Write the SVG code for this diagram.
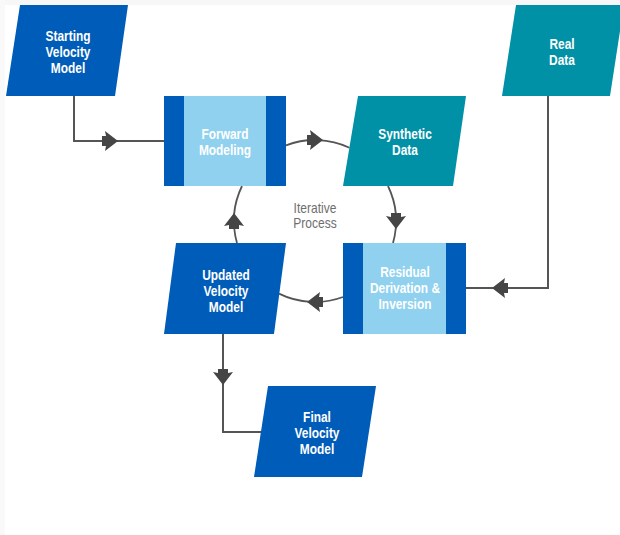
<svg xmlns="http://www.w3.org/2000/svg" xmlns:xlink="http://www.w3.org/1999/xlink" width="620" height="535" viewBox="0 0 620 535">
<style>
.dark{fill:#005cb9}
.light{fill:#8fd1ee}
.teal{fill:#0091a7}
.lbl{font-family:"Liberation Sans",Arial,sans-serif;font-weight:bold;font-size:14px;fill:#ffffff;text-anchor:middle}
.note{font-family:"Liberation Sans",Arial,sans-serif;font-size:14px;fill:#6e6e6e;text-anchor:middle}
.ln{fill:none;stroke:#555555;stroke-width:2}
.arc{fill:none;stroke:#555555;stroke-width:1.8}
.ah{fill:#454545}
</style>
<defs>
<path id="arr" d="M-8,-5 L-4,-5 L-5,-10 L8,0 L-5,10 L-4,5 L-8,5 Z"/>
</defs>
<rect x="0" y="0" width="620" height="535" fill="#ffffff"/>
<rect x="0" y="0" width="620" height="5" fill="#f7f7f7"/>
<rect x="0" y="0" width="5" height="535" fill="#f9f9f9"/>

<g id="connectors">
<path class="ln" d="M74,96 V141 H164"/>
<path class="ln" d="M548,96 V288 H466"/>
<path class="ln" d="M223,334 V432 H261"/>
<path class="arc" d="M286,145.4 A81,81 0 0 1 349.5,147.7"/>
<path class="arc" d="M388,186 A81,81 0 0 1 393,243"/>
<path class="arc" d="M343,297 A81,81 0 0 1 279,293.6"/>
<path class="arc" d="M237,243 A81,81 0 0 1 242,186"/>
<g class="ah">
<use xlink:href="#arr" transform="translate(110,141)"/>
<use xlink:href="#arr" transform="translate(500,288) rotate(180)"/>
<use xlink:href="#arr" transform="translate(223,377) rotate(90)"/>
<use xlink:href="#arr" transform="translate(315,140)"/>
<use xlink:href="#arr" transform="translate(396,221) rotate(90)"/>
<use xlink:href="#arr" transform="translate(315,302) rotate(180)"/>
<use xlink:href="#arr" transform="translate(234,221) rotate(-90)"/>
</g>
</g>

<g id="starting">
<polygon class="dark" points="20,5 128,5 115,96 6,96"/>
<text class="lbl" transform="translate(68,41) scale(0.85,1)">Starting</text>
<text class="lbl" transform="translate(68,57) scale(0.85,1)">Velocity</text>
<text class="lbl" transform="translate(68,73) scale(0.85,1)">Model</text>
</g>

<g id="forward">
<rect class="dark" x="164" y="96" width="122" height="90"/>
<rect class="light" x="184" y="96" width="82" height="90"/>
<text class="lbl" transform="translate(225,139) scale(0.85,1)">Forward</text>
<text class="lbl" transform="translate(225,155) scale(0.85,1)">Modeling</text>
</g>

<g id="synthetic">
<polygon class="teal" points="358,96 466,96 453,186 343,186"/>
<text class="lbl" transform="translate(405,139) scale(0.85,1)">Synthetic</text>
<text class="lbl" transform="translate(405,155) scale(0.85,1)">Data</text>
</g>

<g id="real">
<polygon class="teal" points="516,5 624,5 610,96 502,96"/>
<text class="lbl" transform="translate(562,49) scale(0.85,1)">Real</text>
<text class="lbl" transform="translate(562,65) scale(0.85,1)">Data</text>
</g>

<g id="residual">
<rect class="dark" x="343" y="243" width="123" height="91"/>
<rect class="light" x="363" y="243" width="83" height="91"/>
<text class="lbl" transform="translate(405,277) scale(0.85,1)">Residual</text>
<text class="lbl" transform="translate(405,293) scale(0.85,1)">Derivation &amp;</text>
<text class="lbl" transform="translate(405,309) scale(0.85,1)">Inversion</text>
</g>

<g id="updated">
<polygon class="dark" points="176,243 286,243 274,334 164,334"/>
<text class="lbl" transform="translate(226,280) scale(0.85,1)">Updated</text>
<text class="lbl" transform="translate(226,296) scale(0.85,1)">Velocity</text>
<text class="lbl" transform="translate(226,312) scale(0.85,1)">Model</text>
</g>

<g id="final">
<polygon class="dark" points="268,386 376,386 362,477 254,477"/>
<text class="lbl" transform="translate(317,422) scale(0.85,1)">Final</text>
<text class="lbl" transform="translate(317,438) scale(0.85,1)">Velocity</text>
<text class="lbl" transform="translate(317,454) scale(0.85,1)">Model</text>
</g>

<g id="iterative">
<text class="note" transform="translate(315,213) scale(0.86,1)">Iterative</text>
<text class="note" transform="translate(315,228) scale(0.86,1)">Process</text>
</g>
</svg>
